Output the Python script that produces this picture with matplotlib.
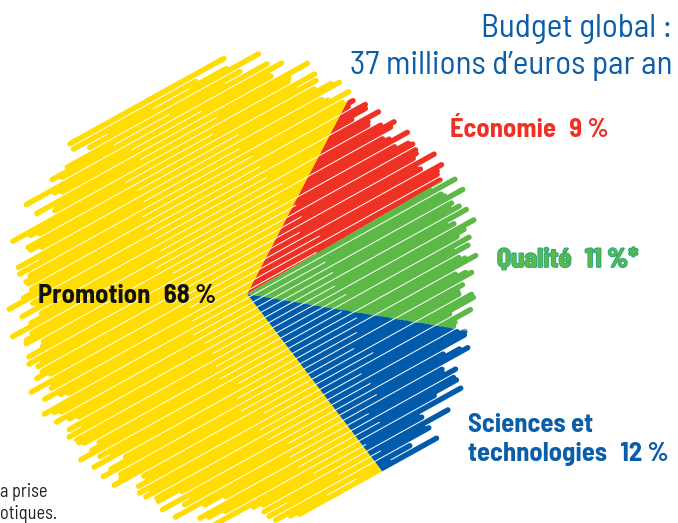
import numpy as np
import matplotlib.pyplot as plt
from matplotlib.collections import LineCollection
import matplotlib.patheffects as pe

# Budget shares (%)
categories = ["Économie", "Qualité", "Sciences et technologies", "Promotion"]
shares = [9, 11, 12, 68]
colors = ["#EE3124", "#5DB947", "#005BAA", "#FFDD00"]

W, H = 678, 523
fig = plt.figure(figsize=(W / 100, H / 100), dpi=100)
ax = fig.add_axes([0, 0, 1, 1])

# pie geometry (pixel units, y up)
cx, cy, R = 247, 229, 222

# invisible wedges (slightly larger) used as clip regions for the scribble strokes
wedges, _ = ax.pie(shares, colors=colors, startangle=62.5, counterclock=False,
                   center=(cx, cy), radius=R * 1.2,
                   wedgeprops=dict(linewidth=0, alpha=0))

# scribble strokes at ~29 degrees with ragged ends
ang = np.deg2rad(29)
u = np.array([np.cos(ang), np.sin(ang)])
n = np.array([-np.sin(ang), np.cos(ang)])
spacing = 6.4
offsets = np.arange(-R + 4, R - 2, spacing)
segs = []
for i, d in enumerate(offsets):
    j1 = 0.05 * np.sin(2.9 * i + 0.4) + 0.035 * np.sin(7.7 * i)
    j2 = 0.05 * np.sin(3.7 * i + 2.1) + 0.035 * np.sin(6.1 * i + 1)
    l1 = np.sqrt(max((R * (1 + j1)) ** 2 - d ** 2, 0))
    l2 = np.sqrt(max((R * (1 + j2)) ** 2 - d ** 2, 0))
    if l1 + l2 < 8:
        continue
    p0 = np.array([cx, cy]) + d * n
    segs.append([p0 - l1 * u, p0 + l2 * u])
    # a slightly shifted overlapping stroke to roughen the edge
    d2 = d + spacing * 0.45
    k1 = 0.04 * np.sin(5.3 * i + 1.3) - 0.02
    k2 = 0.04 * np.sin(4.4 * i + 0.2) - 0.02
    m1 = np.sqrt(max((R * (1 + k1)) ** 2 - d2 ** 2, 0))
    m2 = np.sqrt(max((R * (1 + k2)) ** 2 - d2 ** 2, 0))
    if abs(d2) < R and i % 2 == 0:
        q0 = np.array([cx, cy]) + d2 * n
        segs.append([q0 - m1 * u, q0 - m1 * u + 0.35 * (m1 + m2) * u])
        segs.append([q0 + m2 * u - 0.3 * (m1 + m2) * u, q0 + m2 * u])

for w, col in zip(wedges, colors):
    lc = LineCollection(segs, colors=col, linewidths=3.9, capstyle="round")
    ax.add_collection(lc)
    lc.set_clip_path(w)

ax.set_xlim(0, W)
ax.set_ylim(0, H)
ax.set_aspect("auto")
ax.axis("off")

font = ["Barlow Semi Condensed", "DejaVu Sans"]
blue = "#0A5DA8"
sp = "\u2002"   # wider gap between word and figure
th = "\u2009"   # thin gap before %

# title
t1 = ax.text(672, H - 37, "Budget global :", ha="right", va="baseline",
             fontsize=22, color=blue, family=font)
t2 = ax.text(672, H - 74, "37 millions d\u2019euros par an", ha="right", va="baseline",
             fontsize=22, color=blue, family=font)

# segment labels
lab = dict(fontsize=16, fontweight="bold", family=font, va="baseline")
l_eco = ax.text(450, H - 137, f"Économie{sp}9{th}%", color="#EE3124", **lab)
l_qua = ax.text(497, H - 267, f"Qualité{sp}11{th}%*", color="#5DB947",
                path_effects=[pe.withStroke(linewidth=1.2, foreground="#1BA38C")], **lab)
l_pro = ax.text(38, H - 303, f"Promotion{sp}68{th}%", color="#111111", **lab)
l_sci = ax.text(468, H - 432, "Sciences et", color=blue, **lab)
l_tec = ax.text(468, H - 461, f"technologies{sp}12{th}%", color=blue, **lab)

# cut-off footnote at the bottom left
f1 = ax.text(0, H - 497, "a prise", fontsize=11, color="#222222", family=font, va="baseline")
f2 = ax.text(0, H - 519, "otiques.", fontsize=11, color="#222222", family=font, va="baseline")

# size text so that reference widths match
fig.canvas.draw()
rend = fig.canvas.get_renderer()
s_title = t2.get_fontsize() * 322 / t2.get_window_extent(rend).width
for t in (t1, t2):
    t.set_fontsize(s_title)
s_lab = l_tec.get_fontsize() * 200 / l_tec.get_window_extent(rend).width
for t in (l_eco, l_qua, l_pro, l_sci, l_tec):
    t.set_fontsize(s_lab)
s_foot = f2.get_fontsize() * 57 / f2.get_window_extent(rend).width
for t in (f1, f2):
    t.set_fontsize(s_foot)

fig.savefig("out.png", dpi=100)
